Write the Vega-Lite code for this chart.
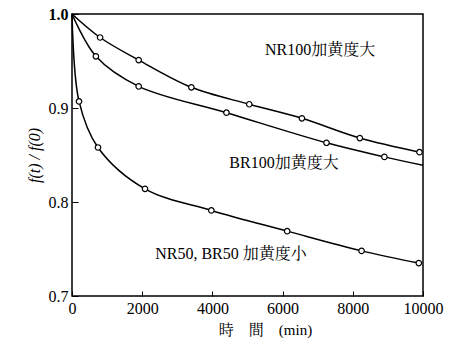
{
  "$schema": "https://vega.github.io/schema/vega-lite/v6.json",
  "width": 351,
  "height": 282,
  "autosize": "none",
  "padding": {"left": 72, "top": 14, "right": 35, "bottom": 51},
  "background": "white",
  "config": {
    "view": {"stroke": "black", "strokeWidth": 1.5},
    "font": "Liberation Serif"
  },
  "datasets": {
    "curves": [
      {"t": 0, "f": 1.0, "s": "NR100"},
      {"t": 800, "f": 0.975, "s": "NR100"},
      {"t": 1900, "f": 0.951, "s": "NR100"},
      {"t": 3400, "f": 0.922, "s": "NR100"},
      {"t": 5050, "f": 0.904, "s": "NR100"},
      {"t": 6550, "f": 0.889, "s": "NR100"},
      {"t": 8200, "f": 0.868, "s": "NR100"},
      {"t": 9900, "f": 0.853, "s": "NR100"},
      {"t": 0, "f": 1.0, "s": "BR100"},
      {"t": 680, "f": 0.955, "s": "BR100"},
      {"t": 1900, "f": 0.923, "s": "BR100"},
      {"t": 4400, "f": 0.895, "s": "BR100"},
      {"t": 7250, "f": 0.863, "s": "BR100"},
      {"t": 8900, "f": 0.848, "s": "BR100"},
      {"t": 10000, "f": 0.839, "s": "BR100", "end": true},
      {"t": 0, "f": 1.0, "s": "NR50"},
      {"t": 200, "f": 0.907, "s": "NR50"},
      {"t": 740, "f": 0.858, "s": "NR50"},
      {"t": 2080, "f": 0.814, "s": "NR50"},
      {"t": 3970, "f": 0.791, "s": "NR50"},
      {"t": 6130, "f": 0.769, "s": "NR50"},
      {"t": 8250, "f": 0.748, "s": "NR50"},
      {"t": 9880, "f": 0.735, "s": "NR50"}
    ],
    "labels": [
      {"t": 7070, "f": 0.962, "txt": "NR100加黄度大"},
      {"t": 6040, "f": 0.842, "txt": "BR100加黄度大"},
      {"t": 4530, "f": 0.745, "txt": "NR50, BR50 加黄度小"}
    ]
  },
  "layer": [
    {
      "data": {"name": "curves"},
      "mark": {"type": "line", "interpolate": "catmull-rom", "color": "black", "strokeWidth": 1.5},
      "encoding": {
        "x": {
          "field": "t", "type": "quantitative",
          "scale": {"domain": [0, 10000], "nice": false},
          "axis": {
            "values": [0, 2000, 4000, 6000, 8000, 10000], "format": "d",
            "grid": false, "domain": false,
            "tickSize": -5, "tickColor": "black",
            "labelFont": "Liberation Serif", "labelFontSize": 16, "labelColor": "black",
            "labelPadding": 9, "labelFlush": false,
            "title": "時　間　(min)", "titleFont": "Liberation Serif, Noto Serif CJK JP, Noto Sans CJK JP",
            "titleFontSize": 15, "titleFontWeight": "normal", "titleColor": "black", "titlePadding": 6,
            "titleX": 193
          }
        },
        "y": {
          "field": "f", "type": "quantitative",
          "scale": {"domain": [0.7, 1.0], "nice": false, "zero": false},
          "axis": {
            "values": [0.7, 0.8, 0.9, 1.0], "format": ".1f",
            "grid": false, "domain": false,
            "tickSize": -6, "tickColor": "black",
            "labelFont": "Liberation Serif", "labelFontSize": 16, "labelColor": "black",
            "labelPadding": 10,
            "labelFontWeight": {"condition": {"test": "datum.value == 1", "value": "bold"}, "value": "normal"},
            "title": "f(t) / f(0)", "titleFont": "Liberation Serif", "titleFontStyle": "italic",
            "titleFontSize": 16, "titleFontWeight": "normal", "titleColor": "black", "titlePadding": 6
          }
        },
        "detail": {"field": "s"}
      }
    },
    {
      "data": {"name": "curves"},
      "transform": [{"filter": "datum.t > 0 && !datum.end"}],
      "mark": {"type": "point", "shape": "circle", "filled": true, "fill": "white", "stroke": "black", "strokeWidth": 1.2, "size": 30, "opacity": 1},
      "encoding": {
        "x": {"field": "t", "type": "quantitative"},
        "y": {"field": "f", "type": "quantitative"}
      }
    },
    {
      "data": {"name": "labels"},
      "mark": {"type": "text", "font": "Liberation Serif, Noto Serif CJK JP, Noto Sans CJK JP", "fontSize": 16, "color": "black"},
      "encoding": {
        "x": {"field": "t", "type": "quantitative"},
        "y": {"field": "f", "type": "quantitative"},
        "text": {"field": "txt"}
      }
    }
  ]
}
